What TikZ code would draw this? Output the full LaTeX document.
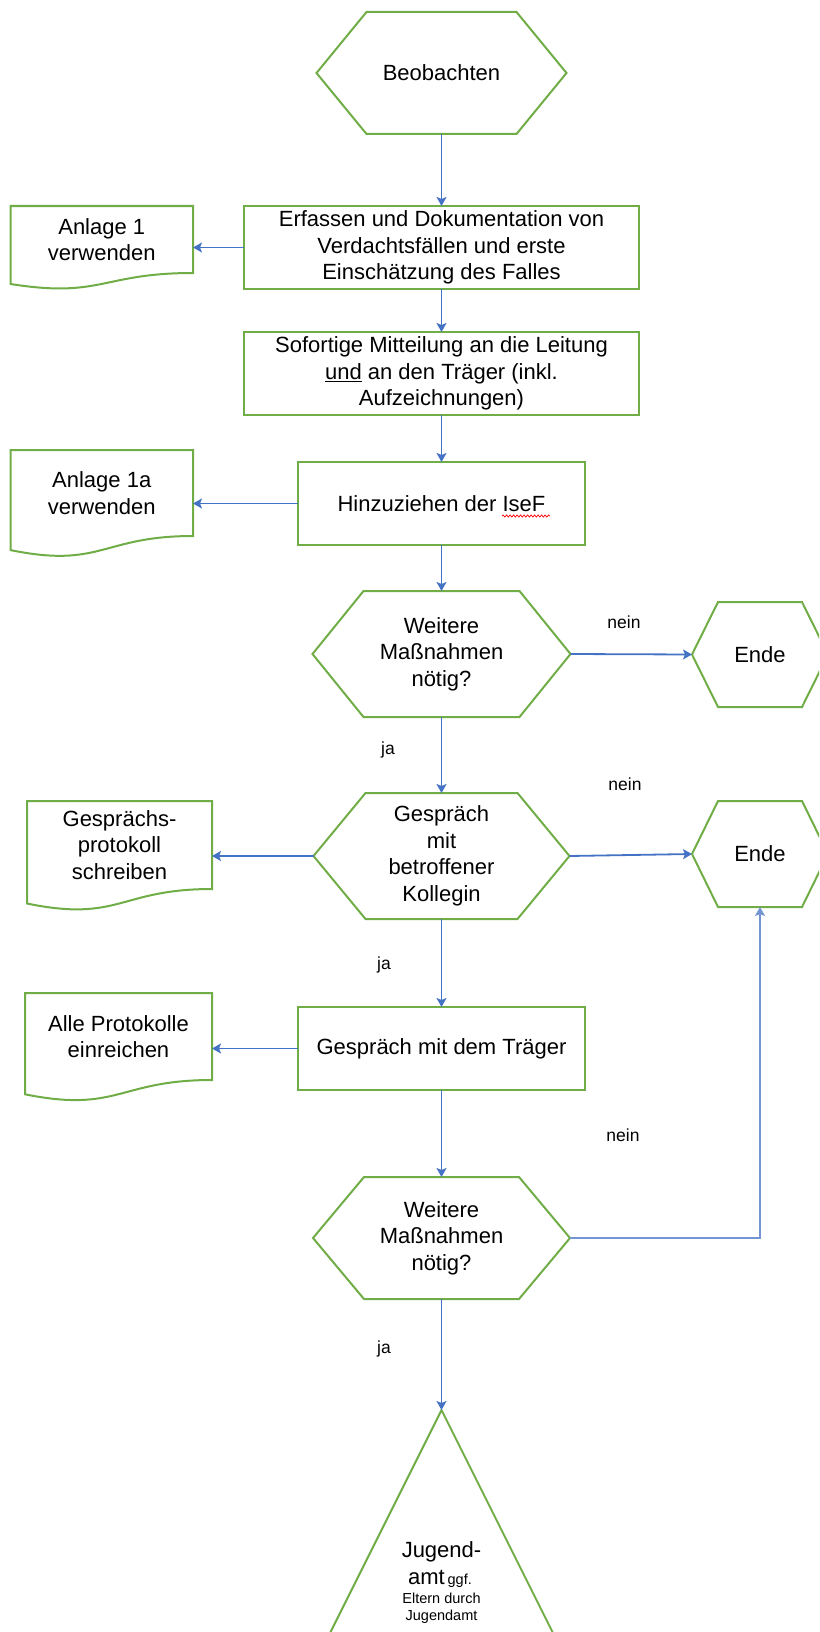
\documentclass[tikz,border=0pt]{standalone}
\usepackage{fontspec}
\setmainfont{Liberation Sans}
\usetikzlibrary{arrows.meta,calc,decorations.pathmorphing}
\definecolor{grn}{HTML}{70AD47}
\definecolor{blu}{HTML}{4472C4}
\newcommand\mfs{\fontsize{22}{26.5}\selectfont}
\newcommand\lfs{\fontsize{17.5}{20}\selectfont}
\newcommand\sfs{\fontsize{14.5}{17}\selectfont}
\begin{document}
\begin{tikzpicture}[x=1pt,y=-1pt,
  every node/.style={outer sep=0pt, inner sep=0pt},
  box/.style={draw=grn, line width=2pt, align=center, font=\mfs},
  hexa/.style={align=center, font=\mfs},
  docu/.style={align=center, font=\mfs},
  outl/.style={draw=grn, line width=2pt, line join=miter},
  conn/.style={draw=blu, line width=1.8pt, -{Stealth[length=9pt,width=10pt,inset=2pt]}},
  lbl/.style={font=\lfs}
]
\useasboundingbox (0,0) rectangle (819,1632);
\clip (0,0) rectangle (819,1632);

% main column
\node[hexa, minimum width=250pt, minimum height=122pt] (beob) at (441.5,73) {Beobachten};
\node[box, minimum width=395pt, minimum height=83pt] (erf) at (441.5,247.5)
  {Erfassen und Dokumentation von\\Verdachtsfällen und erste\\Einschätzung des Falles};
\node[box, minimum width=395pt, minimum height=83pt] (sof) at (441.5,373.5)
  {Sofortige Mitteilung an die Leitung\\\underline{und} an den Träger (inkl.\\Aufzeichnungen)};
\node[box, minimum width=287pt, minimum height=83pt] (hinz) at (441.5,503.5) {Hinzuziehen der IseF};
\node[hexa, minimum width=258pt, minimum height=126pt] (w1) at (441.5,654) {Weitere\\Maßnahmen\\nötig?};
\node[hexa, minimum width=136pt, minimum height=105pt] (ende1) at (760,654.5) {Ende};
\node[hexa, minimum width=256pt, minimum height=126pt] (ges) at (441.5,856) {Gespräch\\mit\\betroffener\\Kollegin};
\node[hexa, minimum width=136pt, minimum height=106pt] (ende2) at (760,854) {Ende};
\node[box, minimum width=287pt, minimum height=83pt] (trae) at (441.5,1048.5) {Gespräch mit dem Träger};
\node[hexa, minimum width=257pt, minimum height=122pt] (w2) at (441.5,1238) {Weitere\\Maßnahmen\\nötig?};
\coordinate (apex) at (441.5,1410);

% documents (text area nodes)
\node[docu, minimum width=182.5pt, minimum height=67pt] (an1) at (101.75,239.5) {Anlage 1\\verwenden};
\node[docu, minimum width=182.5pt, minimum height=86pt] (an1a) at (101.75,493) {Anlage 1a\\verwenden};
\node[docu, minimum width=185pt, minimum height=88pt] (gp) at (119.5,845) {Gesprächs-\\protokoll\\schreiben};
\node[docu, minimum width=187pt, minimum height=87pt] (alle) at (118.5,1036.5) {Alle Protokolle\\einreichen};

% hexagon outlines
\foreach \n/\d in {beob/50,w1/51,ges/52,w2/51,ende1/26,ende2/26}{
  \draw[outl] (\n.west) -- ([xshift=\d pt]\n.north west) -- ([xshift=-\d pt]\n.north east)
    -- (\n.east) -- ([xshift=-\d pt]\n.south east) -- ([xshift=\d pt]\n.south west) -- cycle;
}
% document outlines
\foreach \n/\a/\b in {an1/25.5/11, an1a/32.7/14.1, gp/33.6/14.5, alle/33.1/14.3}{
  \draw[outl] (\n.north west) -- (\n.north east) -- (\n.south east)
    .. controls (\n.south) and ($(\n.south)+(0,\a)$) .. ($(\n.south west)+(0,\b)$) -- cycle;
}
% triangle
\draw[outl] (apex) -- ++(-130,260) -- ++(260,0) -- cycle;
\node[font=\mfs, anchor=base] (tj1) at (441.5,1557) {Jugend-};
\node[anchor=base] (tj2) at (440,1584) {{\mfs amt} {\sfs ggf.}};
\node[font=\sfs, anchor=base] (tj3) at (441.5,1603) {Eltern durch};
\node[font=\sfs, anchor=base] (tj4) at (441.5,1620) {Jugendamt};

% spell-check squiggle under IseF
\draw[red, line width=0.7pt, decorate, decoration={snake, amplitude=1.1pt, segment length=3.5pt}]
  (502,516) -- (550,516);

% connectors
\draw[conn] (beob.south) -- (erf.north);
\draw[conn] (erf.south) -- (sof.north);
\draw[conn] (sof.south) -- (hinz.north);
\draw[conn] (hinz.south) -- (w1.north);
\draw[conn] (w1.south) -- (ges.north);
\draw[conn] (ges.south) -- (trae.north);
\draw[conn] (trae.south) -- (w2.north);
\draw[conn] (w2.south) -- (apex);
\draw[conn] (erf.west) -- (erf.west -| an1.east);
\draw[conn] (hinz.west) -- (hinz.west -| an1a.east);
\draw[conn] (ges.west) -- (ges.west -| gp.east);
\draw[conn] (trae.west) -- (trae.west -| alle.east);
\draw[conn] (w1.east) -- (ende1.west);
\draw[conn] (ges.east) -- (ende2.west);
\draw[conn, draw=blu!75, line width=2.2pt] (w2.east) -| (ende2.south);

% labels
\node[lbl] (nein1) at (624,622) {nein};
\node[lbl] (nein2) at (625,784) {nein};
\node[lbl] (nein3) at (623,1135) {nein};
\node[lbl] (ja1) at (388,750) {ja};
\node[lbl] (ja2) at (384,965) {ja};
\node[lbl] (ja3) at (384,1349) {ja};
\end{tikzpicture}
\end{document}
